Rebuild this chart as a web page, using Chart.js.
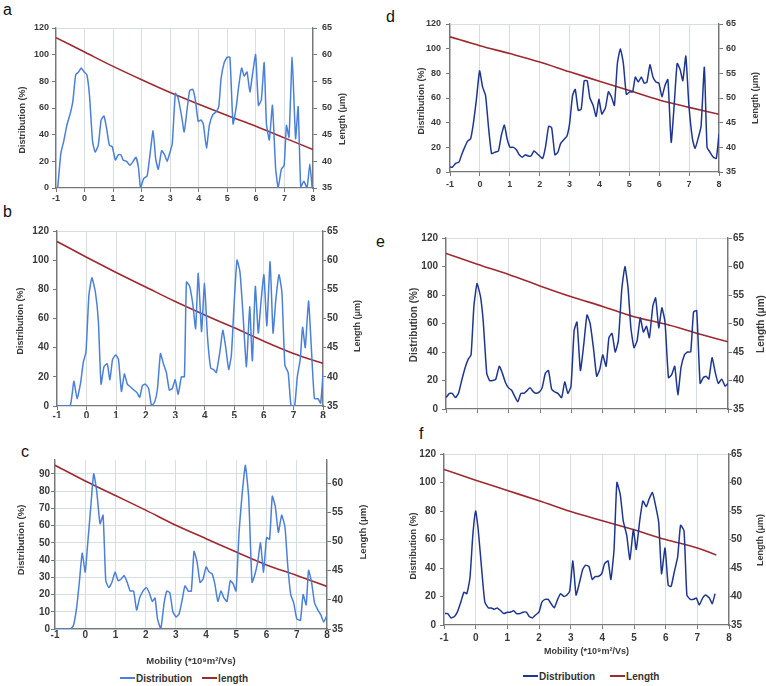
<!DOCTYPE html>
<html>
<head>
<meta charset="utf-8">
<script src="https://cdn.jsdelivr.net/npm/chart.js@4.4.1/dist/chart.umd.min.js"></script>
<style>
body{margin:0;background:#fff;width:766px;height:686px;position:relative;overflow:hidden;font-family:"Liberation Sans",Arial,sans-serif}
canvas{position:absolute}
.lbl{position:absolute;font-size:16px;line-height:16px;color:#111}
.legend{position:absolute;font-size:10px;font-weight:bold;color:#333;display:flex;align-items:center;height:12px;white-space:nowrap}
.legend i{display:inline-block;width:15px;height:2px;margin-right:1px}
</style>
</head>
<body>
<div class="lbl" style="left:3px;top:2px">a</div>
<div class="lbl" style="left:3px;top:204px">b</div>
<div class="lbl" style="left:21px;top:444px">c</div>
<div class="lbl" style="left:386px;top:9px">d</div>
<div class="lbl" style="left:376px;top:234px">e</div>
<div class="lbl" style="left:419px;top:426px">f</div>

<canvas id="cA"></canvas>
<canvas id="cB"></canvas>
<canvas id="cC"></canvas>
<canvas id="cD"></canvas>
<canvas id="cE"></canvas>
<canvas id="cF"></canvas>

<div class="legend" style="left:120px;top:672px"><i style="background:#4a80d8"></i>Distribution<i style="background:#9e2a2f;margin-left:10px"></i>length</div>
<div class="legend" style="left:523px;top:670px"><i style="background:#1f3690"></i>Distribution<i style="background:#9e2a2f;margin-left:15px"></i>Length</div>

<script>
// mobility axis
const xMin = -1, xMax = 8;

// length curves (x = mobility, y = µm)
const lengthX = [-1,0,1,2,3,4,5,6,7,8];
const lengthXF = [-1,0,1,2,3,4,5,6,7,7.6];
const lengthA = [63.2,60.5,57.8,55.3,52.9,50.7,48.6,46.6,44.4,42.2];
const lengthB = [63.2,60.5,57.9,55.4,52.9,50.6,48.4,46.1,44.0,42.3];
const lengthC = [63.1,60.4,57.9,55.4,52.8,50.5,48.2,46.0,44.2,42.3];
const lengthD = [62.4,60.6,59.0,57.3,55.3,53.4,51.5,49.6,48.1,46.7];
const lengthE = [62.3,60.4,58.6,56.6,54.7,53.0,51.2,49.9,48.3,46.8];
const lengthF = [62.3,60.4,58.6,56.8,54.9,53.3,51.7,50.0,48.5,47.3];

// distribution (%) as [mobility, value]
const distA = [[-0.94,0],[-0.83,26],[-0.73,35],[-0.62,47],[-0.5,56],[-0.41,65],[-0.31,85],[-0.21,87],[-0.12,90],[-0.01,87],[0.08,85],[0.17,70],[0.28,35],[0.37,27],[0.48,32],[0.58,51],[0.68,54],[0.77,45],[0.87,32],[0.97,31],[1.08,21],[1.18,25],[1.27,25],[1.35,21],[1.47,20],[1.59,17],[1.7,20],[1.8,23],[1.89,15],[1.96,0],[2.07,7],[2.19,9],[2.28,23],[2.4,43],[2.49,22],[2.58,14],[2.7,28],[2.8,25],[2.89,20],[2.98,26],[3.07,33],[3.18,71],[3.27,68],[3.39,55],[3.49,42],[3.58,57],[3.68,73],[3.79,74],[3.88,66],[3.98,50],[4.08,51],[4.16,48],[4.27,30],[4.37,47],[4.49,55],[4.6,57],[4.7,61],[4.78,82],[4.89,94],[4.99,98],[5.09,98],[5.2,48],[5.32,62],[5.39,75],[5.5,90],[5.59,84],[5.69,87],[5.79,72],[5.88,85],[5.99,100],[6.09,62],[6.19,66],[6.29,94],[6.37,48],[6.47,36],[6.58,62],[6.69,15],[6.78,0],[6.89,14],[6.99,17],[7.07,47],[7.16,38],[7.27,98],[7.39,37],[7.48,61],[7.57,1],[7.68,5],[7.79,0],[7.89,18],[7.97,0]];
const distB = [[-1,0],[-0.56,0],[-0.43,17],[-0.32,5],[-0.2,16],[-0.11,30],[-0.02,37],[0.08,76],[0.18,88],[0.3,78],[0.4,58],[0.49,15],[0.59,27],[0.7,29],[0.79,18],[0.88,32],[0.99,35],[1.08,32],[1.18,10],[1.28,22],[1.38,15],[1.49,13],[1.6,11],[1.71,9],[1.8,6],[1.89,14],[1.99,15],[2.1,12],[2.2,0],[2.31,3],[2.4,12],[2.5,36],[2.6,29],[2.7,23],[2.8,11],[2.9,12],[3.0,18],[3.1,8],[3.21,20],[3.31,20],[3.38,85],[3.49,82],[3.6,69],[3.69,53],[3.78,91],[3.89,51],[3.99,84],[4.09,48],[4.2,26],[4.3,25],[4.39,23],[4.51,37],[4.61,52],[4.71,40],[4.81,25],[4.9,35],[4.99,69],[5.09,100],[5.19,92],[5.29,64],[5.41,27],[5.52,68],[5.61,31],[5.71,82],[5.81,50],[5.9,71],[6.0,90],[6.1,55],[6.21,99],[6.31,50],[6.4,72],[6.51,90],[6.61,78],[6.71,28],[6.82,23],[6.92,0],[7.04,0],[7.13,20],[7.23,32],[7.31,54],[7.4,40],[7.51,72],[7.6,42],[7.71,5],[7.83,5],[7.92,2],[8.0,22]];
const distC = [[-1,0],[-0.5,0],[-0.39,2],[-0.28,13],[-0.19,28],[-0.1,44],[0,33],[0.08,49],[0.18,70],[0.28,90],[0.38,80],[0.49,61],[0.59,66],[0.68,28],[0.78,24],[0.88,27],[0.99,33],[1.09,28],[1.19,29],[1.29,31],[1.39,27],[1.49,22],[1.6,22],[1.7,11],[1.8,18],[1.91,22],[2.02,24],[2.12,21],[2.22,16],[2.31,18],[2.39,6],[2.5,0],[2.61,15],[2.7,22],[2.8,21],[2.9,10],[3.01,7],[3.11,9],[3.21,17],[3.3,25],[3.41,22],[3.51,22],[3.6,45],[3.7,39],[3.8,27],[3.9,29],[4.0,36],[4.1,33],[4.2,32],[4.29,26],[4.39,16],[4.49,22],[4.59,18],[4.69,16],[4.8,28],[4.9,26],[4.99,22],[5.09,56],[5.19,78],[5.3,95],[5.41,76],[5.52,27],[5.62,32],[5.71,39],[5.8,50],[5.9,33],[6.0,53],[6.1,52],[6.19,77],[6.29,71],[6.39,56],[6.5,66],[6.61,59],[6.7,37],[6.8,20],[6.9,15],[7.0,6],[7.12,5],[7.21,20],[7.31,14],[7.39,34],[7.49,27],[7.59,15],[7.7,11],[7.8,8],[7.89,4],[8.0,8]];
const distD = [[-1,4],[-0.92,4],[-0.81,7],[-0.7,8],[-0.61,14],[-0.51,20],[-0.41,25],[-0.31,27],[-0.22,39],[-0.12,58],[-0.01,82],[0.09,69],[0.19,62],[0.29,36],[0.39,15],[0.5,16],[0.62,17],[0.72,30],[0.82,38],[0.91,27],[1.01,20],[1.12,20],[1.22,18],[1.32,14],[1.42,12],[1.52,14],[1.62,13],[1.71,13],[1.81,17],[1.91,15],[2.0,13],[2.1,11],[2.2,21],[2.3,37],[2.4,36],[2.51,14],[2.61,16],[2.7,23],[2.8,26],[2.91,29],[3.0,39],[3.1,62],[3.19,67],[3.29,50],[3.39,51],[3.49,74],[3.59,74],[3.68,60],[3.79,54],[3.89,45],[3.98,59],[4.08,47],[4.2,52],[4.3,65],[4.4,61],[4.5,54],[4.6,88],[4.7,100],[4.8,88],[4.9,63],[5.01,65],[5.11,65],[5.2,77],[5.3,73],[5.4,77],[5.5,72],[5.59,73],[5.69,87],[5.79,77],[5.89,73],[5.99,72],[6.09,61],[6.19,70],[6.29,75],[6.4,24],[6.5,54],[6.6,88],[6.7,83],[6.79,74],[6.89,94],[6.99,55],[7.11,27],[7.2,19],[7.31,28],[7.4,37],[7.51,85],[7.6,20],[7.7,16],[7.81,12],[7.91,11],[8.0,31]];
const distE = [[-1,8],[-0.89,11],[-0.8,11],[-0.7,8],[-0.6,11],[-0.5,20],[-0.39,29],[-0.29,35],[-0.2,38],[-0.11,72],[-0.01,88],[0.1,79],[0.19,61],[0.3,25],[0.39,20],[0.49,20],[0.59,21],[0.7,30],[0.8,25],[0.89,19],[0.99,15],[1.1,13],[1.19,9],[1.29,5],[1.39,11],[1.49,11],[1.59,13],[1.68,15],[1.79,12],[1.88,11],[1.98,12],[2.07,15],[2.17,25],[2.27,27],[2.37,14],[2.47,12],[2.57,11],[2.69,8],[2.79,19],[2.89,11],[2.99,16],[3.09,55],[3.18,61],[3.29,27],[3.4,46],[3.5,66],[3.6,60],[3.71,42],[3.81,23],[3.91,28],[4.0,38],[4.11,30],[4.2,50],[4.3,53],[4.4,40],[4.5,48],[4.61,84],[4.71,100],[4.81,85],[4.9,57],[5.0,43],[5.1,48],[5.2,64],[5.3,54],[5.4,58],[5.49,50],[5.6,72],[5.69,78],[5.79,57],[5.89,71],[5.99,61],[6.1,22],[6.2,24],[6.3,30],[6.4,10],[6.5,29],[6.61,38],[6.71,40],[6.81,40],[6.9,68],[7.0,69],[7.11,18],[7.21,22],[7.3,23],[7.39,21],[7.49,36],[7.6,25],[7.69,18],[7.8,21],[7.91,16],[8.0,18]];
const distF = [[-0.97,8],[-0.88,8],[-0.78,5],[-0.67,6],[-0.58,9],[-0.47,16],[-0.37,23],[-0.28,22],[-0.18,33],[-0.09,63],[0,80],[0.08,67],[0.19,39],[0.29,16],[0.4,12],[0.49,12],[0.59,11],[0.68,12],[0.79,10],[0.89,8],[1.0,9],[1.09,9],[1.2,10],[1.29,8],[1.4,8],[1.49,9],[1.6,9],[1.69,6],[1.8,5],[1.89,7],[2.0,9],[2.09,16],[2.19,18],[2.29,18],[2.38,15],[2.48,12],[2.59,18],[2.68,22],[2.79,20],[2.88,21],[2.97,24],[3.07,45],[3.17,21],[3.27,29],[3.38,39],[3.47,42],[3.58,41],[3.68,32],[3.78,34],[3.87,34],[3.98,36],[4.07,43],[4.18,45],[4.27,32],[4.37,53],[4.46,100],[4.57,91],[4.66,73],[4.77,63],[4.87,46],[4.98,67],[5.07,53],[5.18,73],[5.28,87],[5.39,83],[5.47,88],[5.58,93],[5.67,85],[5.78,72],[5.87,36],[5.98,54],[6.08,28],[6.17,27],[6.27,37],[6.38,48],[6.47,70],[6.58,66],[6.67,21],[6.78,18],[6.88,18],[6.97,19],[7.06,14],[7.17,19],[7.26,21],[7.38,19],[7.47,15],[7.56,22]];

const LIGHT = "#4a80d8", DARK = "#1f3690", RED = "#9e2a2f";
const TXT = "#3a3a3a", GRID = "#d6dde3", AXIS = "#777";
const xTitle = "Mobility (*10\u2079m\u00b2/Vs)";

// draws the rotated y titles (both read bottom-to-top like the original)
const yTitles = {
  id: "yTitles",
  afterDraw(chart, args, o) {
    const ctx = chart.ctx;
    ctx.save();
    ctx.fillStyle = TXT;
    ctx.font = "bold " + o.size + "px 'Liberation Sans', Arial, sans-serif";
    ctx.textAlign = "center";
    ctx.textBaseline = "middle";
    o.items.forEach(t => {
      ctx.save();
      ctx.translate(t[1] - o.ox, t[2] - o.oy);
      ctx.rotate(-Math.PI / 2);
      ctx.fillText(t[0], 0, 0);
      ctx.restore();
    });
    ctx.restore();
  }
};

function makePanel(id, p) {
  const [cx, cy, cw, ch] = p.canvas;
  const [al, at, ar, ab] = p.area;
  const el = document.getElementById(id);
  el.width = cw; el.height = ch;
  el.style.left = cx + "px"; el.style.top = cy + "px";
  const font = {family: "'Liberation Sans', Arial, sans-serif", size: p.font, weight: "bold"};
  const tFont = {family: "'Liberation Sans', Arial, sans-serif", size: p.tfont, weight: "bold"};
  const lh = p.tfont * 1.2;
  new Chart(el, {
    type: "line",
    data: {
      datasets: [
        {label: "Distribution", data: p.dist.map(d => ({x: d[0], y: d[1]})), borderColor: p.color,
         borderWidth: 1.5, pointRadius: 0, tension: 0.15, yAxisID: "y"},
        {label: "Length", data: p.lenX.map((x, i) => ({x, y: p.len[i]})), borderColor: RED,
         borderWidth: 1.6, pointRadius: 0, tension: 0.4, cubicInterpolationMode: "monotone", yAxisID: "y2"}
      ]
    },
    options: {
      responsive: false, animation: false, devicePixelRatio: 1,
      layout: {padding: {top: at - cy, left: 0, right: 0, bottom: 0}},
      plugins: {legend: {display: false}, tooltip: {enabled: false},
        yTitles: {ox: cx, oy: cy, size: p.tfont, items: [
          ["Distribution (%)", p.lt[0], p.lt[1]],
          ["Length (\u03bcm)", p.rt[0], p.rt[1]]
        ]}},
      scales: {
        x: {
          type: "linear", min: xMin, max: xMax,
          afterFit: s => { s.height = cy + ch - ab; },
          ticks: {stepSize: 1, display: p.xLabels, color: TXT, font, padding: p.xPad, maxRotation: 0},
          grid: {color: GRID, tickColor: AXIS, tickLength: p.xTick, drawTicks: p.xTick > 0},
          border: {color: AXIS, width: 1.3},
          title: p.xTitleY ? {display: true, text: xTitle, color: TXT, font: tFont,
            padding: {top: 0, bottom: cy + ch - p.xTitleY - lh / 2}} : {display: false}
        },
        y: {
          position: "left", min: 0, max: p.yMax,
          afterFit: s => { s.width = al - cx; },
          ticks: {stepSize: p.step, includeBounds: false, color: TXT, font, padding: p.lPad},
          grid: {color: c => (p.gridAll || c.tick.value === p.yMax) ? GRID : "rgba(0,0,0,0)", tickColor: AXIS, tickLength: 4},
          border: {color: AXIS, width: 1.3}
        },
        y2: {
          position: "right", min: 35, max: p.y2Max,
          afterFit: s => { s.width = cx + cw - ar; },
          ticks: {stepSize: 5, includeBounds: false, color: TXT, font, padding: p.rPad},
          grid: {drawOnChartArea: false, tickColor: AXIS, tickLength: p.rTick},
          border: {color: AXIS, width: 1.3}
        }
      }
    },
    plugins: [yTitles]
  });
}

makePanel("cA", {canvas: [0, 15, 383, 195], area: [56, 28, 313, 188], dist: distA, len: lengthA, lenX: lengthX,
  color: LIGHT, yMax: 120, y2Max: 65, step: 20, gridAll: false, font: 9, tfont: 9,
  lPad: 3, rPad: 5, rTick: 4, xPad: 1, xTick: 4, xLabels: true, lt: [23, 120], rt: [343, 119]});
makePanel("cB", {canvas: [0, 218, 383, 200], area: [57, 231, 323, 406], dist: distB, len: lengthB, lenX: lengthX,
  color: LIGHT, yMax: 120, y2Max: 65, step: 20, gridAll: false, font: 10, tfont: 9,
  lPad: 4, rPad: 1, rTick: 3, xPad: 0, xTick: 4, xLabels: true, lt: [21, 321], rt: [358, 326]});
makePanel("cC", {canvas: [0, 450, 383, 220], area: [55, 460, 327, 629], dist: distC, len: lengthC, lenX: lengthX,
  color: LIGHT, yMax: 98, y2Max: 64, step: 10, gridAll: true, font: 10, tfont: 9.5,
  lPad: 1, rPad: 1, rTick: 4, xPad: 0, xTick: 0, xLabels: true, lt: [21, 540], rt: [363, 532], xTitleY: 661});
makePanel("cD", {canvas: [383, 5, 383, 195], area: [450, 24, 719, 172], dist: distD, len: lengthD, lenX: lengthX,
  color: DARK, yMax: 120, y2Max: 65, step: 20, gridAll: false, font: 9, tfont: 9,
  lPad: 5, rPad: 3, rTick: 4, xPad: 3, xTick: 4, xLabels: true, lt: [422, 101], rt: [756, 98]});
makePanel("cE", {canvas: [383, 225, 383, 195], area: [446, 238, 728, 409], dist: distE, len: lengthE, lenX: lengthX,
  color: DARK, yMax: 120, y2Max: 65, step: 20, gridAll: false, font: 10, tfont: 10,
  lPad: 4, rPad: 1, rTick: 4, xPad: 0, xTick: 4, xLabels: false, lt: [414, 325], rt: [761, 324]});
makePanel("cF", {canvas: [383, 440, 383, 225], area: [444, 454, 729, 625], dist: distF, len: lengthF, lenX: lengthXF,
  color: DARK, yMax: 120, y2Max: 65, step: 20, gridAll: false, font: 10, tfont: 9,
  lPad: 4, rPad: 0, rTick: 2, xPad: 3, xTick: 4, xLabels: true, lt: [414, 546], rt: [761, 540], xTitleY: 652});
</script>
</body>
</html>
